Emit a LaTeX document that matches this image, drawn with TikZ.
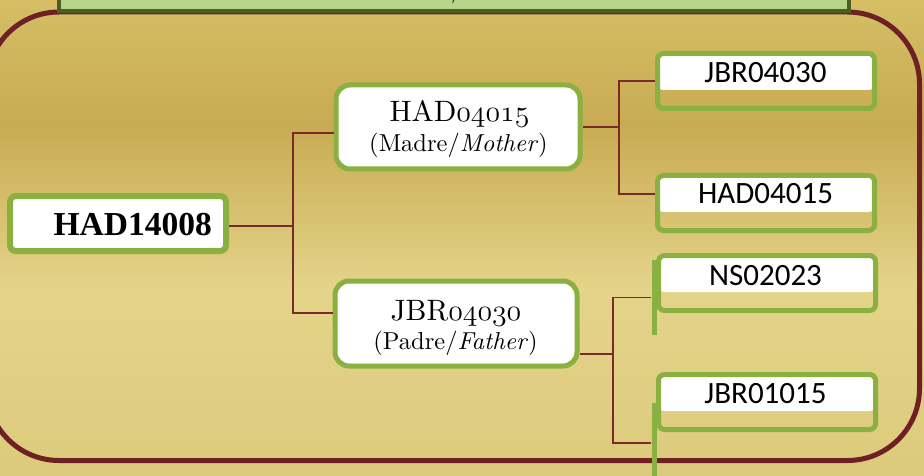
\documentclass[tikz,border=0pt]{standalone}
\usepackage{graphicx}
\usepackage{fontspec}
\newfontfamily\calfont{Carlito}
\newfontfamily\serbold{Liberation Serif}
\newfontfamily\lmten[Extension=.otf, UprightFont=*-regular, ItalicFont=*-italic]{lmroman10}
\usetikzlibrary{calc}
\definecolor{frameRed}{RGB}{110,32,36}
\definecolor{connRed}{RGB}{122,42,42}
\definecolor{boxGreen}{RGB}{138,176,66}
\definecolor{topFill}{RGB}{184,212,138}
\definecolor{topLine}{RGB}{74,94,36}
\definecolor{bgA}{RGB}{213,190,102}
\definecolor{bgB}{RGB}{200,171,82}
\definecolor{bgC}{RGB}{228,212,138}
\definecolor{bgD}{RGB}{220,202,124}
\pgfdeclareverticalshading{bgshade}{100bp}{color(0bp)=(bgD); color(25bp)=(bgD); color(44.5bp)=(bgC); color(61.9bp)=(bgB); color(75bp)=(bgA); color(100bp)=(bgA)}
\newcommand\osfdig[1]{\scalebox{1.2}{\usefont{OML}{lmm}{m}{it}#1}}
\tikzset{
  parentbox/.style={draw=boxGreen, fill=white, line width=5pt, rounded corners=14pt, inner sep=0pt},
  rootbox/.style={draw=boxGreen, fill=white, line width=6pt, rounded corners=6pt, inner sep=0pt, minimum width=216pt, minimum height=55pt},
  leafbox/.style={draw=boxGreen, line width=5pt, rounded corners=6pt, inner sep=0pt, minimum width=217pt, minimum height=55pt,
    path picture={\fill[white] ([yshift=-36.5pt]path picture bounding box.north west) rectangle (path picture bounding box.north east);}},
  leaftext/.style={anchor=base, font=\calfont\fontsize{31}{31}\selectfont, inner sep=0pt},
  bigtext/.style={anchor=base, font=\lmten\fontsize{29.5}{29.5}\selectfont, inner sep=0pt},
  smalltext/.style={anchor=base, font=\lmten\fontsize{24.5}{24.5}\selectfont, inner sep=0pt},
  greenbar/.style={fill=boxGreen, inner sep=0pt, minimum width=5pt},
  conn/.style={draw=connRed, line width=1.6pt},
  frame/.style={draw=frameRed, line width=5pt, rounded corners=72pt},
}
\begin{document}
\begin{tikzpicture}[x=1pt,y=-1pt]
\useasboundingbox (0,0) rectangle (924,476);
\shade[shading=bgshade] (0,0) rectangle (924,476);
\draw[frame] (-13,12) rectangle (919.5,460.5);
\draw[draw=topLine, fill=topFill, line width=4pt] (59,-20) rectangle (848.5,11.3);
\node[anchor=base, font=\fontsize{24}{24}\selectfont, inner sep=0pt] (ttl) at (457,-2) {/};

% nodes
\node[rootbox] (root) at (118,223.5) {};
\node[anchor=base east, font=\serbold\bfseries\fontsize{33.5}{33.5}\selectfont, inner sep=0pt] (rootT) at (212,235) {HAD14008};

\node[parentbox, minimum width=244pt, minimum height=84pt] (mom) at (458,127) {};
\node[bigtext] (momA) at (459.5,122) {HAD\osfdig{04015}};
\node[smalltext] (momB) at (458.5,152) {(Madre/\textit{Mother})};

\node[parentbox, minimum width=242pt, minimum height=85pt] (dad) at (456,323.5) {};
\node[bigtext] (dadA) at (456,320) {JBR\osfdig{04030}};
\node[smalltext] (dadB) at (455.5,349) {(Padre/\textit{Father})};

\node[leafbox] (r1) at (766,81) {};
\node[leaftext] (r1t) at (765.5,83) {JBR04030};
\node[leafbox] (r2) at (766,203) {};
\node[leaftext] (r2t) at (765.5,204) {HAD04015};
\node[leafbox] (r3) at (767,283) {};
\node[leaftext] (r3t) at (765.5,285) {NS02023};
\node[leafbox] (r4) at (767,402) {};
\node[leaftext] (r4t) at (765.5,403) {JBR01015};

\node[greenbar, minimum height=75pt] (b3) at (654,297.5) {};
\node[greenbar, minimum height=80pt] (b4) at (654,443) {};

% connectors
\draw[conn] ([yshift=-2.5pt]root.east) -- ++(64,0) coordinate (j1) |- ([yshift=-6pt]mom.west);
\draw[conn] (j1) |- ([yshift=10.5pt]dad.west);
\draw[conn] (mom.east) -- ++(36.5,0) coordinate (j2) |- (r1.west);
\draw[conn] (j2) |- ([yshift=9pt]r2.west);
\draw[conn] ([yshift=-30.5pt]dad.east) -- ++(33.5,0) coordinate (j3) |- (b3.west);
\draw[conn] (j3) |- (b4.west);
\end{tikzpicture}
\end{document}
